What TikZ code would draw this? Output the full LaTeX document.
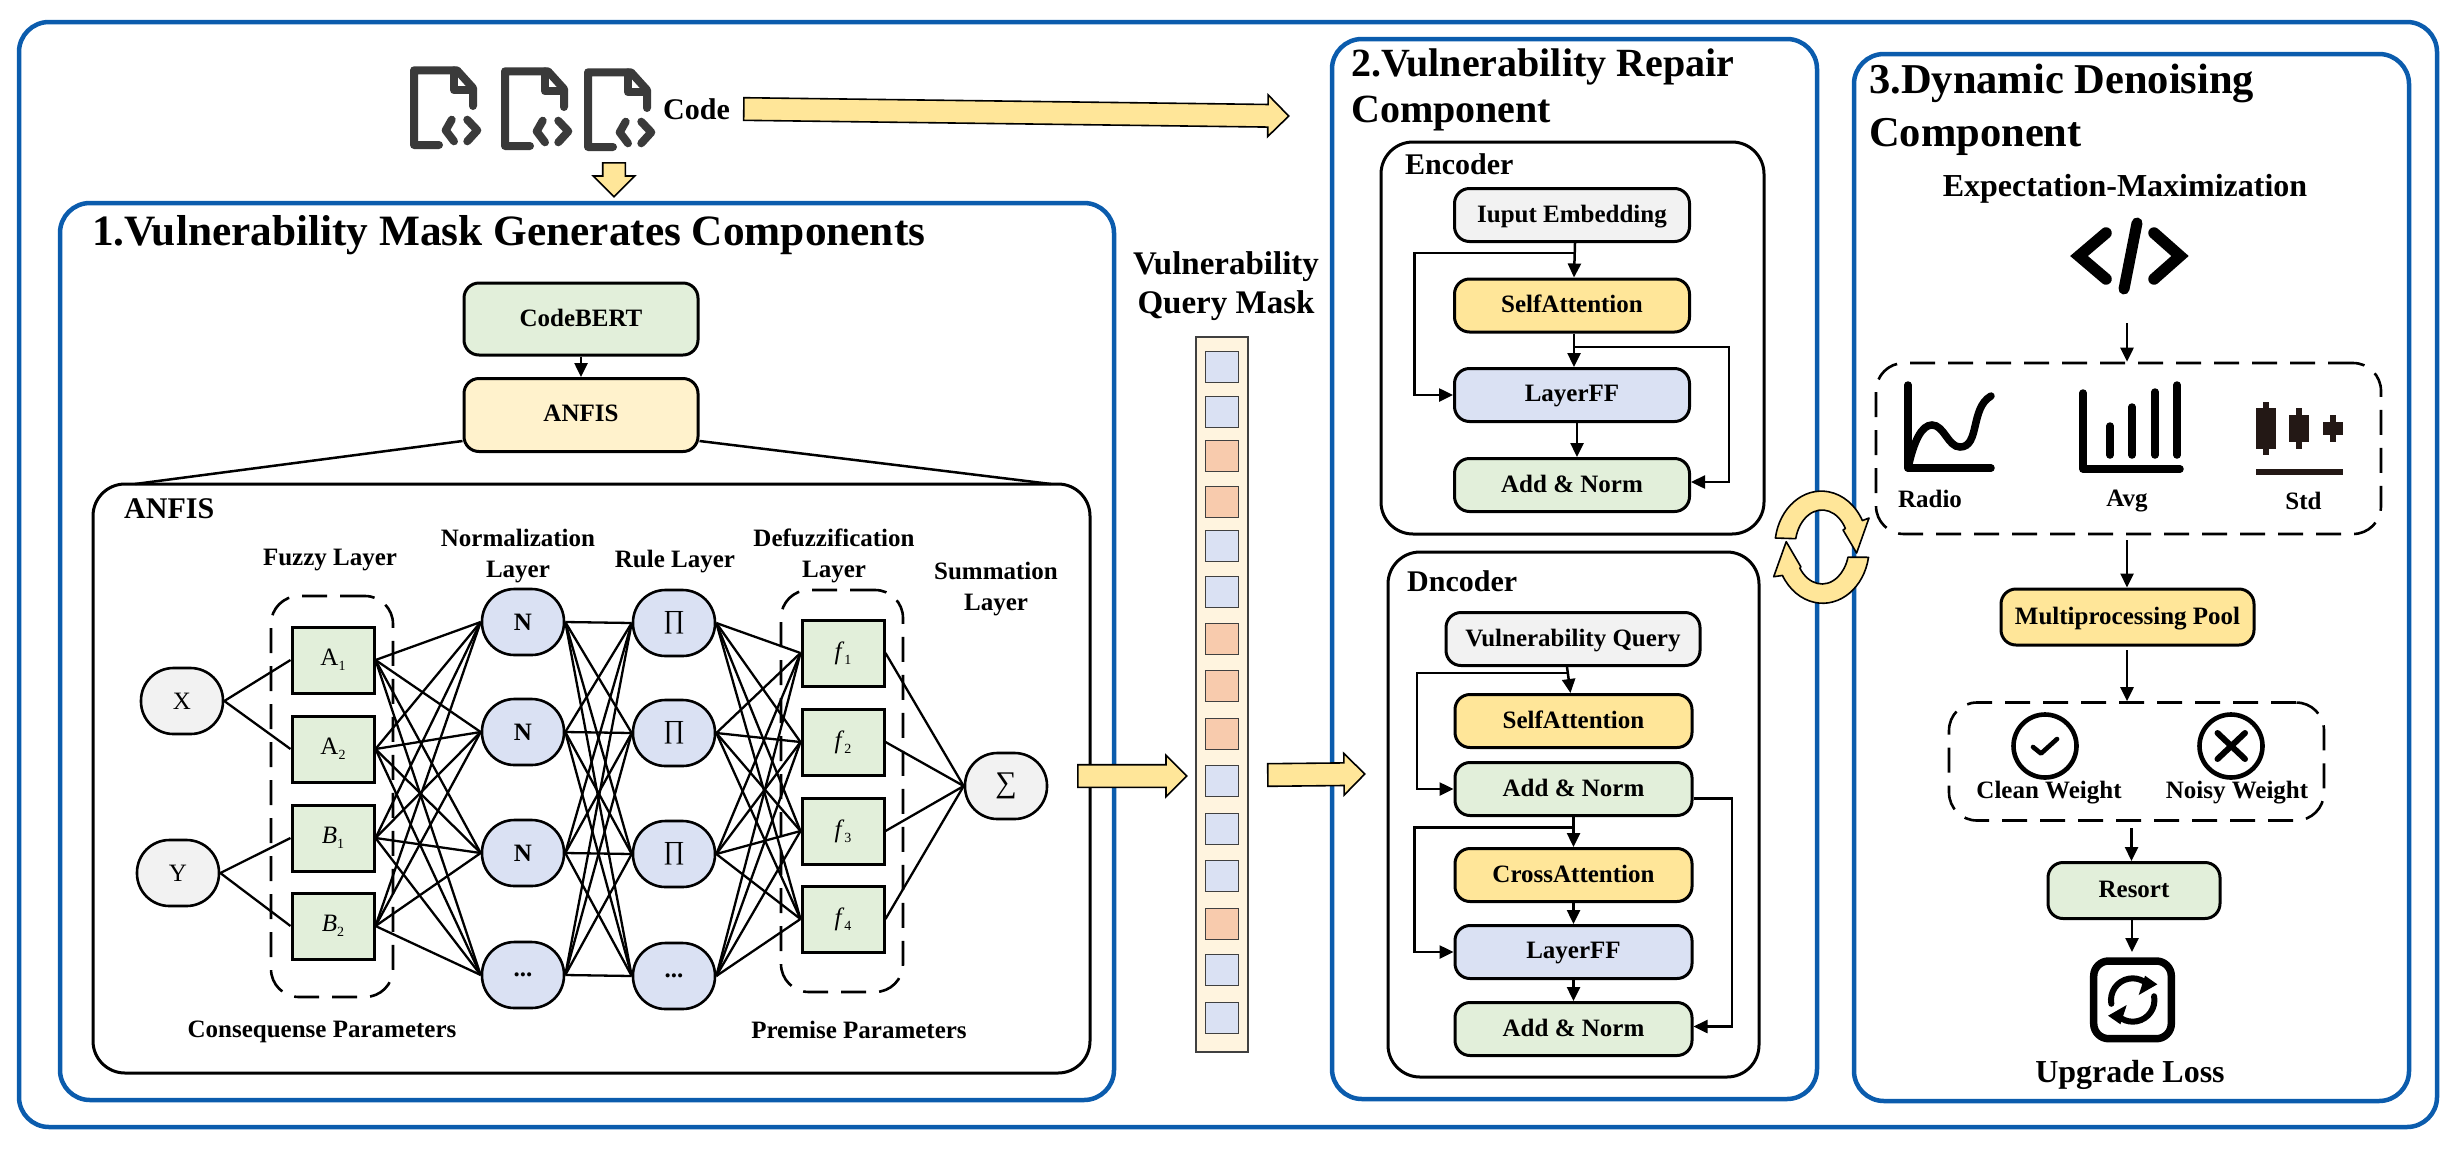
\documentclass[tikz,border=0pt]{standalone}
\usepackage{fontspec}
\setmainfont{Liberation Serif}
\usepackage{tikz}
\usetikzlibrary{arrows.meta}
\usetikzlibrary{shapes.arrows}
\definecolor{panelblue}{HTML}{0B5CAD}
\definecolor{softgreen}{HTML}{E2EFDA}
\definecolor{softyellow}{HTML}{FFE699}
\definecolor{paleyellow}{HTML}{FFF2CC}
\definecolor{softblue}{HTML}{DAE1F3}
\definecolor{softgrey}{HTML}{F2F2F2}
\definecolor{softorange}{HTML}{F8CBAD}
\definecolor{stripfill}{HTML}{FFF4DF}
\definecolor{iconink}{HTML}{3A3A3A}
\definecolor{candleink}{HTML}{231815}
\newcommand{\lsub}[1]{\raisebox{-5pt}{\fontsize{14}{14}\selectfont #1}}
\tikzstyle{panel}=[draw=panelblue, line width=4.5pt, rounded corners=30pt]
\tikzstyle{subpanel}=[draw, line width=3pt, rounded corners=32pt]
\tikzstyle{dashbox}=[draw, line width=2.6pt, rounded corners=28pt, dash pattern=on 25pt off 13pt, inner sep=0pt]
\tikzstyle{block}=[draw, line width=3pt, rounded corners=15pt, inner sep=0pt, minimum height=53pt, text depth=3pt, font=\fontsize{25}{30}\selectfont\bfseries]
\tikzstyle{greenblock}=[block, fill=softgreen]
\tikzstyle{yellowblock}=[block, fill=softyellow]
\tikzstyle{paleblock}=[block, fill=paleyellow]
\tikzstyle{blueblock}=[block, fill=softblue]
\tikzstyle{greyblock}=[block, fill=softgrey]
\tikzstyle{roundnode}=[draw, line width=2.6pt, rounded corners=32.5pt, inner sep=0pt, minimum width=82pt, minimum height=66pt, font=\fontsize{25}{30}\selectfont]
\tikzstyle{squarenode}=[draw, line width=3pt, fill=softgreen, inner sep=0pt, minimum width=82pt, minimum height=66pt, font=\fontsize{25}{30}\selectfont]
\tikzstyle{cell}=[draw=black!75, line width=1.6pt, inner sep=0pt, minimum width=33pt, minimum height=31pt]
\tikzstyle{caption}=[inner sep=0pt, align=center, font=\fontsize{25}{31}\selectfont\bfseries]
\tikzstyle{sechead}=[inner sep=0pt, align=left, anchor=west, font=\fontsize{30}{36}\selectfont\bfseries]
\tikzstyle{flow}=[line width=2.5pt, -{Triangle[length=14pt,width=13pt]}]
\tikzstyle{fork}=[line width=2.5pt]
\tikzstyle{link}=[line width=2.3pt]
\tikzstyle{blockarrow}=[draw, line width=1.6pt, fill=softyellow, shape=single arrow, inner xsep=0pt, inner ysep=10.5pt, single arrow head extend=9.5pt, anchor=tail]
\newcommand{\docicon}[2]{
    \begin{scope}[shift={(#1,#2)}, draw=iconink, line width=8pt, line cap=round, line join=round]
        \draw (28,77) -- (3,77) -- (3,2.3) -- (46,2.3) -- (62,20) -- (62,38);
        \draw (43,2.3) -- (43,22.3) -- (62,22.3);
        \draw (40.7,51.7) -- (34.7,62.3) -- (43,73.3);
        \draw (56.3,51.7) -- (66.3,62.3) -- (56.3,73.3);
    \end{scope}
}
\begin{document}
\begin{tikzpicture}[x=1pt, y=-1pt]
        \useasboundingbox (0,0) rectangle (2458,1152);
        % panels
        \draw[panel] (19,22) rectangle (2437,1127);
        \draw[panel] (60,203) rectangle (1114,1100);
        \draw[panel] (1332,39) rectangle (1817,1099);
        \draw[panel] (1854,54) rectangle (2409,1101);
        \draw[subpanel] (93,484) rectangle (1090,1073);
        \draw[subpanel] (1381,142) rectangle (1764,534);
        \draw[subpanel] (1388,552) rectangle (1759,1077);
        % code files
        \docicon{411}{68}
        \docicon{502}{69}
        \docicon{585}{70}
        \node[sechead] (codelabel) at (663,109) {Code};
        \node[blockarrow, minimum height=545pt, rotate=-0.74] (codearrow) at (743,109) {};
        \node[blockarrow, minimum height=34pt, rotate=-90] (downarrow) at (614,162) {};
        % component 1
        \node[sechead, font=\fontsize{43.3}{50}\selectfont\bfseries] (headone) at (92,235) {1.Vulnerability Mask Generates Components};
        \node[greenblock, minimum width=234pt, minimum height=72pt] (CodeBERT) at (581,319) {CodeBERT};
        \node[paleblock, minimum width=234pt, minimum height=73pt] (ANFIS) at (581,415) {ANFIS};
        \draw[flow] (CodeBERT) -- (ANFIS);
        \draw[fork] ([yshift=12pt]ANFIS.south west) -- (135,484);
        \draw[fork] ([yshift=12pt]ANFIS.south east) -- (1051,484);
        \node[sechead] (anfislabel) at (124,509) {ANFIS};
        \node[caption] (fuzzylabel) at (330,560) {Fuzzy Layer};
        \node[caption] (normlabel) at (518,556) {Normalization\\Layer};
        \node[caption] (rulelabel) at (675,562) {Rule Layer};
        \node[caption] (defuzzlabel) at (834,556) {Defuzzification\\Layer};
        \node[caption] (sumlabel) at (996,589) {Summation\\Layer};
        \node[caption] (conslabel) at (322,1032) {Consequense Parameters};
        \node[caption] (premlabel) at (859,1030) {Premise Parameters};
        \node[dashbox, minimum width=122pt, minimum height=401pt] (fuzzybox) at (332,796.5) {};
        \node[dashbox, minimum width=122pt, minimum height=402pt] (defuzzbox) at (842,791) {};
        \node[roundnode, fill=softgrey] (X) at (182,701) {X};
        \node[roundnode, fill=softgrey] (Y) at (178,873) {Y};
        \node[squarenode] (A1) at (333,660) {A\lsub{1}};
        \node[squarenode] (A2) at (333,749) {A\lsub{2}};
        \node[squarenode] (B1) at (333,838) {\textit{B}\lsub{1}};
        \node[squarenode] (B2) at (333,926) {\textit{B}\lsub{2}};
        \node[roundnode, fill=softblue, font=\fontsize{25}{30}\selectfont\bfseries] (N1) at (523,622) {N};
        \node[roundnode, fill=softblue, font=\fontsize{25}{30}\selectfont\bfseries] (N2) at (523,732) {N};
        \node[roundnode, fill=softblue, font=\fontsize{25}{30}\selectfont\bfseries] (N3) at (523,853) {N};
        \node[roundnode, fill=softblue, font=\fontsize{25}{30}\selectfont\bfseries] (N4) at (523,975) {...};
        \node[roundnode, fill=softblue, font=\fontsize{26}{30}\selectfont] (P1) at (674,623) {∏};
        \node[roundnode, fill=softblue, font=\fontsize{26}{30}\selectfont] (P2) at (674,733) {∏};
        \node[roundnode, fill=softblue, font=\fontsize{26}{30}\selectfont] (P3) at (674,854) {∏};
        \node[roundnode, fill=softblue, font=\fontsize{25}{30}\selectfont\bfseries] (P4) at (674,976) {...};
        \node[squarenode] (F1) at (843,653) {\textit{f}\lsub{1}};
        \node[squarenode] (F2) at (843,742) {\textit{f}\lsub{2}};
        \node[squarenode] (F3) at (843,831) {\textit{f}\lsub{3}};
        \node[squarenode] (F4) at (843,919) {\textit{f}\lsub{4}};
        \node[roundnode, fill=softgrey, font=\fontsize{30}{30}\selectfont] (S) at (1006,786) {∑};
        \draw[link] (X.east) -- (A1.west);
        \draw[link] (X.east) -- (A2.west);
        \draw[link] (Y.east) -- (B1.west);
        \draw[link] (Y.east) -- (B2.west);
        \foreach \a in {A1,A2,B1,B2} \foreach \b in {N1,N2,N3,N4} \draw[link] (\a.east) -- (\b.west);
        \foreach \a in {N1,N2,N3,N4} \foreach \b in {P1,P2,P3,P4} \draw[link] (\a.east) -- (\b.west);
        \foreach \a in {P1,P2,P3,P4} \foreach \b in {F1,F2,F3,F4} \draw[link] (\a.east) -- (\b.west);
        \draw[link] (F1.east) -- (S.west);
        \draw[link] (F2.east) -- (S.west);
        \draw[link] (F3.east) -- (S.west);
        \draw[link] (F4.east) -- (S.west);
        % query mask
        \node[caption, font=\fontsize{33}{39}\selectfont\bfseries] (masklabel) at (1226,286) {Vulnerability\\Query Mask};
        \node[draw=black!75, line width=1.6pt, fill=stripfill, inner sep=0pt, minimum width=52pt, minimum height=715pt] (strip) at (1222,694.5) {};
        \node[cell, fill=softblue] (C1) at (1222,367) {};
        \node[cell, fill=softblue] (C2) at (1222,412) {};
        \node[cell, fill=softorange] (C3) at (1222,456) {};
        \node[cell, fill=softorange] (C4) at (1222,502) {};
        \node[cell, fill=softblue] (C5) at (1222,546) {};
        \node[cell, fill=softblue] (C6) at (1222,592) {};
        \node[cell, fill=softorange] (C7) at (1222,639) {};
        \node[cell, fill=softorange] (C8) at (1222,686) {};
        \node[cell, fill=softorange] (C9) at (1222,734) {};
        \node[cell, fill=softblue] (C10) at (1222,781) {};
        \node[cell, fill=softblue] (C11) at (1222,829) {};
        \node[cell, fill=softblue] (C12) at (1222,876) {};
        \node[cell, fill=softorange] (C13) at (1222,924) {};
        \node[cell, fill=softblue] (C14) at (1222,970) {};
        \node[cell, fill=softblue] (C15) at (1222,1018) {};
        \node[blockarrow, minimum height=109pt] (maskin) at (1077,776) {};
        \node[blockarrow, minimum height=97pt, rotate=0.6] (maskout) at (1267,775) {};
        % component 2
        \node[sechead, font=\fontsize{40}{46}\selectfont\bfseries] (headtwo) at (1351,90) {2.Vulnerability Repair\\Component};
        \node[sechead] (enclabel) at (1405,164) {Encoder};
        \node[greyblock, minimum width=235pt] (EncInput) at (1572,215) {Iuput Embedding};
        \node[yellowblock, minimum width=235pt] (EncSelf) at (1572,305.5) {SelfAttention};
        \node[blueblock, minimum width=235pt] (EncFF) at (1572,395) {LayerFF};
        \node[greenblock, minimum width=235pt] (EncAdd) at (1572,485) {Add \& Norm};
        \coordinate (EncTapA) at (1575,253);
        \coordinate (EncTapB) at (1574,347);
        \draw[flow] ([xshift=3pt]EncInput.south) -- ([xshift=2pt]EncSelf.north);
        \draw[flow] ([xshift=2pt]EncSelf.south) -- ([xshift=2pt]EncFF.north);
        \draw[flow] ([xshift=5pt]EncFF.south) -- ([xshift=5pt]EncAdd.north);
        \draw[flow] (EncTapA) -- (1414.5,253) |- (EncFF.west);
        \draw[flow] (EncTapB) -- (1729,347) |- ([yshift=3pt]EncAdd.east);
        \node[sechead] (declabel) at (1407,581) {Dncoder};
        \node[greyblock, minimum width=254pt] (DecQuery) at (1573,639) {Vulnerability Query};
        \node[yellowblock, minimum width=237pt] (DecSelf) at (1573.5,721) {SelfAttention};
        \node[greenblock, minimum width=237pt] (DecAdd) at (1573.5,789) {Add \& Norm};
        \node[yellowblock, minimum width=237pt] (DecCross) at (1573.5,875) {CrossAttention};
        \node[blueblock, minimum width=237pt] (DecFF) at (1573.5,952) {LayerFF};
        \node[greenblock, minimum width=237pt] (DecOut) at (1573.5,1029) {Add \& Norm};
        \coordinate (DecTapA) at (1568,673);
        \coordinate (DecTapB) at (1573,827.5);
        \draw[flow] ([xshift=-6pt]DecQuery.south) -- ([xshift=-3pt]DecSelf.north);
        \draw[flow] (DecAdd) -- (DecCross);
        \draw[flow] (DecCross) -- (DecFF);
        \draw[flow] (DecFF) -- (DecOut);
        \draw[flow] (DecTapA) -- (1417,673) |- (DecAdd.west);
        \draw[flow] (DecTapB) -- (1414.5,827.5) |- (DecFF.west);
        \draw[flow] ([yshift=-9.5pt]DecAdd.east) -- (1732,798.5) |- ([yshift=2.5pt]DecOut.east);
        % cycle arrows
        \draw[line width=1.6pt, fill=softyellow, line join=round] (1775.4,538) arc[start angle=-171, end angle=-28, x radius=46.5, y radius=55.6] -- (1869,518) -- (1856.6,553) -- (1843,530) -- (1845.4,528.5) arc[start angle=-30, end angle=-167, x radius=27, y radius=37] -- cycle;
        \draw[line width=1.6pt, fill=softyellow, line join=round] (1868.5,557.3) arc[start angle=10, end angle=150, x radius=46.5, y radius=55.6] -- (1773.7,576.7) -- (1786.2,541.7) -- (1800.8,566.7) -- (1799.9,568.2) arc[start angle=145, end angle=16, x radius=27, y radius=37] -- cycle;
        % component 3
        \node[sechead, font=\fontsize{42.5}{53}\selectfont\bfseries] (headthree) at (1869,110) {3.Dynamic Denoising\\Component};
        \node[caption, font=\fontsize{32}{38}\selectfont\bfseries] (emlabel) at (2125,189) {Expectation-Maximization};
        \draw[line width=11.5pt, line cap=round, line join=miter] (2106,233) -- (2079,256) -- (2106,279);
        \draw[line width=11.5pt, line cap=round, line join=miter] (2154,233) -- (2180,256) -- (2154,279);
        \draw[line width=11pt, line cap=round] (2137,223) -- (2124,289);
        \coordinate (emout) at (2127,323);
        \node[dashbox, minimum width=505pt, minimum height=171pt] (metricbox) at (2128.5,448.5) {};
        \draw[flow] (emout) -- (emout |- metricbox.north);
        \draw[line width=7.5pt, line cap=round, line join=round] (1908,385) -- (1908,468) -- (1991,468);
        \draw[line width=7.5pt, line cap=round] (1908,468) .. controls (1914,440) and (1922,425) .. (1932,425) .. controls (1944,425) and (1948,447) .. (1960,447) .. controls (1980,447) and (1970,408) .. (1991,396);
        \draw[line width=7.5pt, line cap=round, line join=round] (2083,393) -- (2083,469) -- (2180,469);
        \draw[line width=7.5pt, line cap=round] (2110,426) -- (2110,455);
        \draw[line width=7.5pt, line cap=round] (2132,407) -- (2132,455);
        \draw[line width=7.5pt, line cap=round] (2155,392) -- (2155,455);
        \draw[line width=7.5pt, line cap=round] (2177,385) -- (2177,455);
        \fill[candleink] (2256,408) rectangle (2275.5,449);
        \fill[candleink] (2262.5,401.5) rectangle (2268.5,454.6);
        \fill[candleink] (2289,415) rectangle (2309,442);
        \fill[candleink] (2296,408) rectangle (2302,449);
        \fill[candleink] (2323,422) rectangle (2343,435);
        \fill[candleink] (2330,415) rectangle (2336,442);
        \fill[candleink] (2256,469) rectangle (2343,475);
        \node[caption] (radiolabel) at (1930,499) {Radio};
        \node[caption] (avglabel) at (2127,501) {Avg};
        \node[caption] (stdlabel) at (2303.5,501) {Std};
        \coordinate (metricout) at (2127,540);
        \node[yellowblock, minimum width=253pt, minimum height=56pt] (Pool) at (2127.5,617) {Multiprocessing Pool};
        \draw[flow] (metricout) -- (metricout |- Pool.north);
        \coordinate (poolout) at (2127,650);
        \node[dashbox, minimum width=375pt, minimum height=118pt] (weightbox) at (2136.5,761.5) {};
        \draw[flow] (poolout) -- (poolout |- weightbox.north);
        \node[draw, circle, line width=4.6pt, minimum size=63pt, inner sep=0pt] (cleanicon) at (2045,746) {};
        \draw[line width=4.6pt, line cap=round, line join=round] (2033,747) -- (2041,753.5) -- (2057,739);
        \node[draw, circle, line width=4.6pt, minimum size=63pt, inner sep=0pt] (noisyicon) at (2231,746) {};
        \draw[line width=6pt, line cap=round] (2217.5,733) -- (2245,759);
        \draw[line width=6pt, line cap=round] (2245,733) -- (2217.5,759);
        \node[caption] (cleanlabel) at (2049,792.5) {Clean Weight};
        \node[caption] (noisylabel) at (2237,792.5) {Noisy Weight};
        \coordinate (weightout) at (2131.5,828);
        \node[greenblock, minimum width=172pt, minimum height=56pt] (Resort) at (2134,890.5) {Resort};
        \draw[flow] (weightout) -- (weightout |- Resort.north);
        \coordinate (lossin) at (2132,952);
        \draw[flow] (Resort.south -| lossin) -- (lossin);
        \draw[line width=7.5pt, rounded corners=15pt] (2093.7,961) rectangle (2171.3,1038.7);
        \draw[line width=6pt, line cap=round] (2111.3,1003.8) arc[start angle=-190, end angle=-60, radius=21.7];
        \fill[line join=round] (2145,975.7) -- (2157.3,984.3) -- (2138.7,995) -- cycle;
        \draw[line width=6pt, line cap=round] (2154.1,996.2) arc[start angle=-10, end angle=120, radius=21.7];
        \fill[line join=round] (2120.4,1024.3) -- (2108.1,1015.7) -- (2126.7,1005) -- cycle;
        \node[caption, font=\fontsize{32}{38}\selectfont\bfseries] (losslabel) at (2130,1075) {Upgrade Loss};
    \end{tikzpicture}
\end{document}
